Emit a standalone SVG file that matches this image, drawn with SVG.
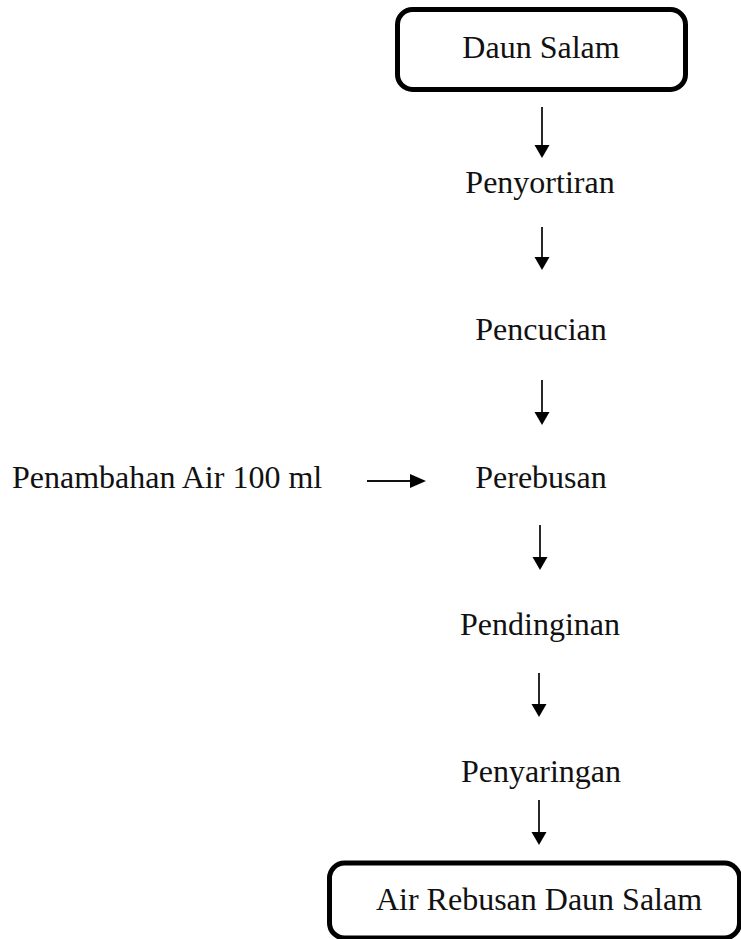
<svg xmlns="http://www.w3.org/2000/svg" width="741" height="939" viewBox="0 0 741 939">
<style>
text{font-family:"Liberation Serif","Times New Roman",serif;font-size:32px;fill:#111}
.c{text-anchor:middle}
.box{fill:#fff;stroke:#000;stroke-width:5}
.ln{stroke:#111;stroke-width:1.8;fill:none}
.hd{fill:#000}
</style>
<rect width="741" height="939" fill="#fff"/>
<g id="node-daun-salam">
<rect class="box" x="397.5" y="9.5" width="288" height="80" rx="15"/>
<text class="c" x="541" y="58">Daun Salam</text>
</g>
<g id="node-penyortiran"><text class="c" x="540" y="193">Penyortiran</text></g>
<g id="node-pencucian"><text class="c" x="541" y="340">Pencucian</text></g>
<g id="node-penambahan"><text x="12" y="488">Penambahan Air 100 ml</text></g>
<g id="node-perebusan"><text class="c" x="541" y="488">Perebusan</text></g>
<g id="node-pendinginan"><text class="c" x="540" y="635">Pendinginan</text></g>
<g id="node-penyaringan"><text class="c" x="541" y="782">Penyaringan</text></g>
<g id="node-air-rebusan">
<rect class="box" x="329.5" y="863" width="410" height="75" rx="15"/>
<text class="c" x="539" y="910">Air Rebusan Daun Salam</text>
</g>
<g id="connectors">
<line class="ln" x1="542" y1="107" x2="542" y2="146"/><path class="hd" d="M534.5,145 L549.5,145 L542,158 Z"/>
<line class="ln" x1="542" y1="227" x2="542" y2="258"/><path class="hd" d="M534.5,257 L549.5,257 L542,270 Z"/>
<line class="ln" x1="542" y1="380" x2="542" y2="413"/><path class="hd" d="M534.5,412 L549.5,412 L542,425 Z"/>
<line class="ln" x1="540" y1="525" x2="540" y2="558"/><path class="hd" d="M532.5,557 L547.5,557 L540,570 Z"/>
<line class="ln" x1="539" y1="673" x2="539" y2="705"/><path class="hd" d="M531.5,704 L546.5,704 L539,717 Z"/>
<line class="ln" x1="539" y1="800" x2="539" y2="833"/><path class="hd" d="M531.5,832 L546.5,832 L539,845 Z"/>
<line class="ln" x1="367" y1="481" x2="412" y2="481"/><path class="hd" d="M410,474 L426,481 L410,488 Z"/>
</g>
</svg>
